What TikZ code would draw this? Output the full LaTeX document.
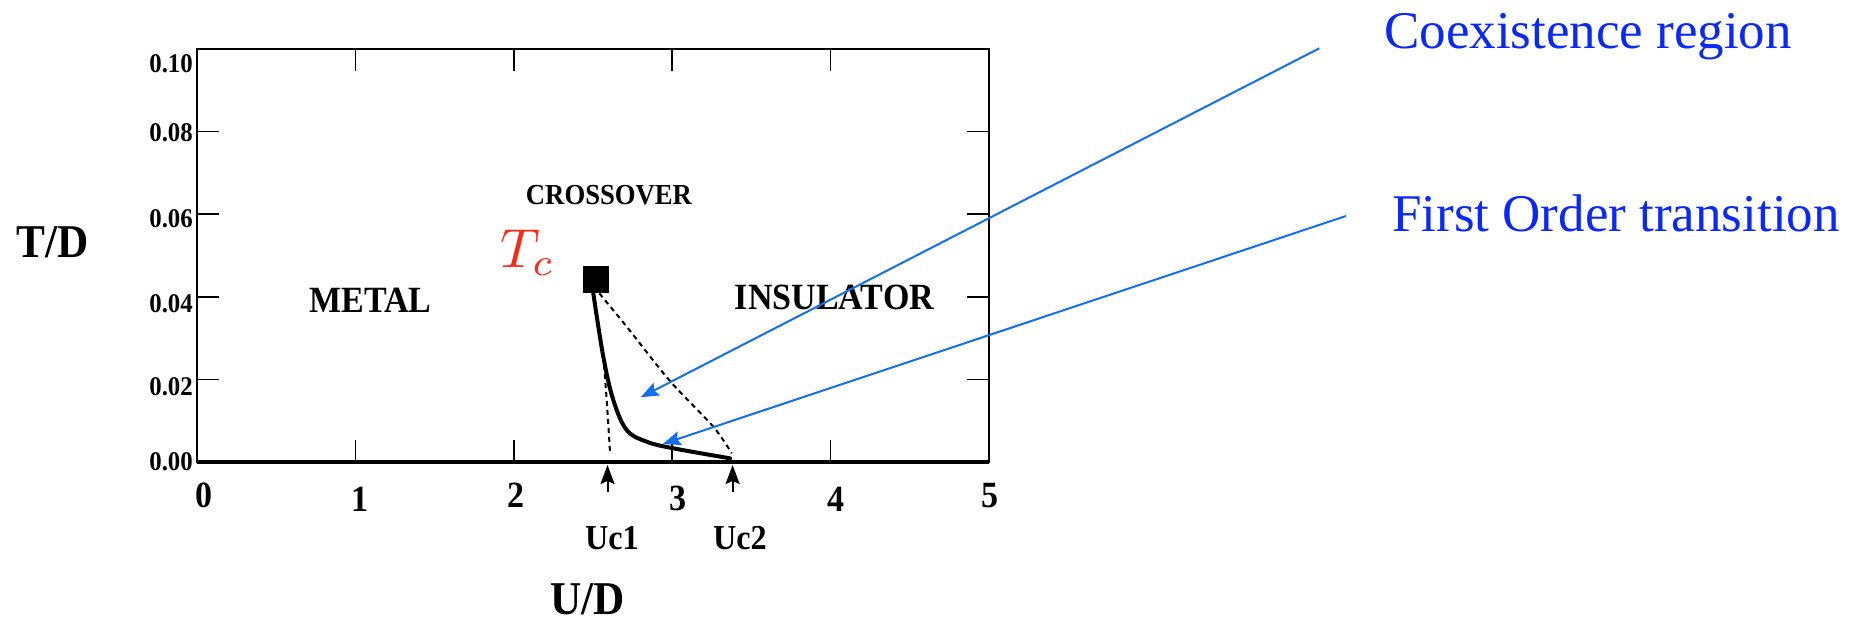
\documentclass[tikz,border=0pt]{standalone}
\usepackage{graphicx}
\usepackage{fontspec}
\setmainfont{Liberation Serif}
\newfontfamily\cb{Liberation Serif}[FakeStretch=0.92]
\usetikzlibrary{arrows.meta}
\definecolor{tcred}{RGB}{250,40,20}
\definecolor{txtblue}{RGB}{10,40,250}
\definecolor{arrblue}{RGB}{20,110,240}
\newcommand{\fs}[1]{\fontsize{#1}{#1}\selectfont}
\begin{document}
\begin{tikzpicture}[x=1pt,y=-1pt,
  lbl/.style={inner sep=0pt,font=\cb\bfseries},
  ticklab/.style={lbl,font=\cb\bfseries\fs{27}},
  xlab/.style={lbl,font=\cb\bfseries\fs{37}},
  tickmark/.style={line width=1.5pt},
  dashcurve/.style={line width=2pt,dash pattern=on 5pt off 4pt},
  blueptr/.style={arrblue,line width=2pt,-{Stealth[length=18pt,width=14pt,inset=3pt]}},
  ucptr/.style={black,line width=2pt,-{Stealth[length=19pt,width=14pt,inset=3pt]}},
  note/.style={inner sep=0pt,anchor=base west,txtblue,font=\fs{53}}]
\useasboundingbox (0,0) rectangle (1858,624);
% frame
\draw[line width=2.5pt] (197,49) rectangle (989,462);
\draw[line width=3.5pt] (197,462) -- (989,462);
\foreach \x in {355.4,513.8,672.2,830.6}{
  \draw[tickmark] (\x,462) -- (\x,440);
  \draw[tickmark] (\x,49) -- (\x,71);}
\foreach \y in {131.6,214.2,296.8,379.4}{
  \draw[tickmark] (197,\y) -- (219,\y);
  \draw[tickmark] (989,\y) -- (967,\y);}
% y tick labels
\node[ticklab,anchor=east] (y10) at (193,64) {0.10};
\node[ticklab,anchor=east] (y08) at (193,133) {0.08};
\node[ticklab,anchor=east] (y06) at (193,218.5) {0.06};
\node[ticklab,anchor=east] (y04) at (193,304) {0.04};
\node[ticklab,anchor=east] (y02) at (193,386.7) {0.02};
\node[ticklab,anchor=east] (y00) at (193,461.7) {0.00};
% x tick labels
\node[xlab] (x0) at (204,495.5) {0};
\node[xlab] (x1) at (360,499.5) {1};
\node[xlab] (x2) at (516,495.5) {2};
\node[xlab] (x3) at (678,498.5) {3};
\node[xlab] (x4) at (836,499.5) {4};
\node[xlab] (x5) at (990,495.5) {5};
% axis titles
\node[lbl,font=\cb\bfseries\fs{47}] (tlab) at (53,242.5) {T/D};
\node[lbl,font=\cb\bfseries\fs{47}] (ulab) at (587.5,599) {U/D};
% region labels
\node[lbl,font=\cb\bfseries\fs{29}] (cross) at (609,195.5) {CROSSOVER};
\node[lbl,font=\cb\bfseries\fs{37}] (metal) at (370.5,300.5) {METAL};
\node[lbl,font=\cb\bfseries\fs{37}] (insul) at (834.5,297) {INSULATOR};
\node[inner sep=0pt,anchor=base west,tcred] (tc) at (500,267.3) {\scalebox{5.5}{$T_c$}};
% critical point
\node[fill=black,inner sep=0pt,minimum width=26pt,minimum height=27pt] (sq) at (595.7,279.7) {};
% curves
\draw[line width=4pt,line cap=round] plot[smooth,tension=0.6] coordinates {(593.3,293.3) (603.3,356.7) (613.3,400) (626.7,430) (646.7,441.7) (673.3,448.3) (730,458.3)};
\draw[dashcurve] plot[smooth] coordinates {(603.3,356) (606.7,400) (610,452)};
\draw[dashcurve] plot[smooth] coordinates {(599.3,293.3) (626.7,326.7) (670,381) (713.3,426.7) (731.7,453.3)};
% Uc arrows and labels
\coordinate (uc1t) at (607.5,492);
\coordinate (uc1h) at (607.5,465);
\coordinate (uc2t) at (732.6,492);
\coordinate (uc2h) at (732.6,465);
\draw[ucptr] (uc1t) -- (uc1h);
\draw[ucptr] (uc2t) -- (uc2h);
\node[lbl,font=\cb\bfseries\fs{35}] (uc1) at (612,538.5) {Uc1};
\node[lbl,font=\cb\bfseries\fs{35}] (uc2) at (740,538.5) {Uc2};
% notes
\node[note] (coex) at (1384,48.3) {Coexistence region};
\node[note] (first) at (1392,231.7) {First Order transition};
\coordinate (a1s) at (1319.3,48.3);
\coordinate (a1e) at (640.7,397.3);
\coordinate (a2s) at (1346,216);
\coordinate (a2e) at (662.7,444);
\draw[blueptr] (a1s) -- (a1e);
\draw[blueptr] (a2s) -- (a2e);
\end{tikzpicture}
\end{document}
